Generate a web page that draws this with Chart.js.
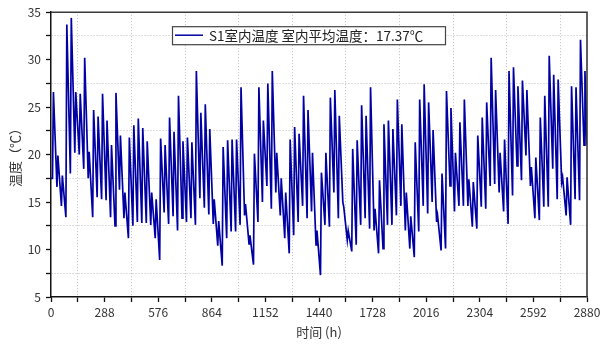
<!DOCTYPE html>
<html>
<head>
<meta charset="utf-8">
<script src="https://cdn.jsdelivr.net/npm/chart.js@4.4.1/dist/chart.umd.min.js"></script>
<style>
html,body{margin:0;padding:0;background:#fff;}
#c{display:block;}
</style>
</head>
<body>
<canvas id="c" width="600" height="344"></canvas>
<script>
// ---- data (hourly series summarised per day) ----
const seriesLabel = "S1室内温度 室内平均温度：17.37℃";
const xTitle = "时间 (h)";
const yTitle = "温度（℃）";
const xTickLabels = [0, 288, 576, 864, 1152, 1440, 1728, 2016, 2304, 2592, 2880];
const yTickLabels = [5, 10, 15, 20, 25, 30, 35];

const startTemp = 17.5;   // hour 0
const endTemp = 21.0;     // hour 2880
const troughHour = 8;     // hour of day of daily low
const peakHour = 13;      // hour of day of daily high

// daily low (before each daily high)
const dailyLow = [
 17.5,16.6,14.6,13.4,18.0,20.2,20.0,18.5,17.5,13.4,15.5,15.3,15.2,13.4,12.5,16.3,13.3,11.2,12.5,12.9,
 12.8,12.8,12.6,11.2,8.9,13.9,12.7,13.5,12.0,13.3,12.9,13.3,12.6,15.4,14.4,13.7,12.7,10.4,8.3,11.2,
 11.9,11.9,12.6,13.6,10.6,8.4,12.9,15.0,16.7,14.3,16.0,13.6,11.2,9.6,11.5,12.9,14.6,13.3,14.0,10.5,
 7.3,12.6,12.4,16.0,13.3,15.0,11.0,9.8,10.5,12.6,13.3,12.2,12.0,9.6,10.1,12.6,12.6,13.6,14.6,12.0,
 10.1,9.2,11.9,14.6,13.8,15.0,12.9,9.9,10.1,16.7,14.0,14.6,14.6,14.6,12.4,12.2,14.5,14.3,16.7,16.9,
 16.0,14.0,12.7,15.7,18.8,17.3,19.9,16.7,13.3,13.1,14.5,14.5,18.5,15.3,17.1,13.6,12.6,15.3,15.2,21.0
];
// daily high
const dailyHigh = [
 26.6,19.9,17.8,33.7,34.4,26.6,26.4,30.2,20.3,24.7,24.0,26.4,23.6,21.0,26.5,22.0,16.0,21.8,23.1,23.8,
 22.8,21.4,16.0,15.3,21.7,21.0,23.9,22.4,26.2,21.4,21.8,21.3,28.8,24.4,25.3,22.7,15.3,13.0,20.8,21.5,
 21.6,21.6,27.1,14.8,11.5,20.1,27.1,23.6,27.5,28.8,20.2,17.5,16.0,21.6,22.9,22.2,26.2,24.7,20.2,12.0,
 18.1,20.2,26.0,26.8,24.1,14.5,12.0,20.6,21.5,25.2,24.1,27.1,14.3,17.3,23.2,23.6,22.7,25.8,23.2,16.0,
 13.5,21.3,25.8,27.4,25.5,22.6,13.6,18.0,26.7,24.9,20.2,23.4,25.8,17.4,17.1,22.0,23.9,25.5,30.2,26.8,
 20.2,21.6,28.8,29.2,27.2,27.8,26.8,18.7,19.7,23.9,26.2,30.4,28.4,27.9,17.6,17.6,27.2,27.1,32.1,28.8
];

// build point table for the library
const points = [{x: 0, y: startTemp}];
for (let d = 0; d < dailyHigh.length; d++) {
  points.push({x: d * 24 + troughHour, y: dailyLow[d]});
  points.push({x: d * 24 + peakHour, y: dailyHigh[d]});
}
points.push({x: 2880, y: endTemp});

const LINE_COLOR = '#0000a4';
const FONT = '"Noto Sans CJK SC", "Noto Sans", sans-serif';

const framePlugin = {
  id: 'frameAndLegend',
  afterDatasetsDraw(chart) {
    const ctx = chart.ctx;
    const a = chart.chartArea;
    ctx.save();
    // top and right frame
    ctx.strokeStyle = '#3a3a3a';
    ctx.lineWidth = 1.6;
    ctx.beginPath();
    ctx.moveTo(a.left, a.top);
    ctx.lineTo(a.right, a.top);
    ctx.lineTo(a.right, a.bottom);
    ctx.stroke();
    // legend box
    const lx = a.left + 121, ly = a.top + 14, lw = 273, lh = 18;
    ctx.fillStyle = '#fff';
    ctx.fillRect(lx, ly, lw, lh);
    ctx.strokeStyle = '#444';
    ctx.lineWidth = 1.2;
    ctx.strokeRect(lx + 0.5, ly + 0.5, lw, lh);
    ctx.strokeStyle = LINE_COLOR;
    ctx.lineWidth = 1.5;
    ctx.beginPath();
    ctx.moveTo(lx + 3, ly + 9);
    ctx.lineTo(lx + 31, ly + 9);
    ctx.stroke();
    ctx.fillStyle = '#222';
    ctx.font = '13.5px ' + FONT;
    ctx.textBaseline = 'middle';
    ctx.textAlign = 'left';
    ctx.fillText(chart.data.datasets[0].label, lx + 37, ly + 10);
    ctx.restore();
  }
};

new Chart(document.getElementById('c'), {
  type: 'line',
  data: {
    datasets: [{
      label: seriesLabel,
      data: points,
      borderColor: LINE_COLOR,
      borderWidth: 1.7,
      pointRadius: 0,
      tension: 0,
      fill: false
    }]
  },
  options: {
    responsive: false,
    animation: false,
    devicePixelRatio: 1,
    layout: {padding: {top: 11, right: 13, left: 0, bottom: 0}},
    plugins: {legend: {display: false}, tooltip: {enabled: false}},
    scales: {
      x: {
        type: 'linear',
        min: xTickLabels[0],
        max: xTickLabels[xTickLabels.length - 1],
        afterFit(s) { s.height = 47; s.paddingRight = 0; s.paddingLeft = 0; },
        ticks: {
          stepSize: 144,
          autoSkip: false,
          maxRotation: 0,
          padding: 3,
          color: '#333',
          font: {family: FONT, size: 12},
          callback: (v) => xTickLabels.includes(v) ? String(v) : ''
        },
        grid: {
          color: (c) => (c.tick && xTickLabels.includes(c.tick.value)) ? 'rgba(0,0,0,0)' : '#bdbdbd',
          lineWidth: 1,
          drawTicks: true,
          tickLength: 5,
          tickColor: '#111',
          tickWidth: 1.3
        },
        border: {display: true, color: '#111', width: 1.5, dash: [1, 2]},
        title: {display: true, text: xTitle, color: '#333', font: {family: FONT, size: 13}, padding: {top: 0, bottom: 4}}
      },
      y: {
        min: yTickLabels[0],
        max: yTickLabels[yTickLabels.length - 1],
        afterFit(s) { s.width = 51; },
        ticks: {
          stepSize: 2.5,
          autoSkip: false,
          padding: 5,
          color: '#333',
          font: {family: FONT, size: 12},
          callback: (v) => yTickLabels.includes(v) ? String(v) : ''
        },
        grid: {
          color: (c) => (c.tick && yTickLabels.includes(c.tick.value)) ? 'rgba(0,0,0,0)' : '#bdbdbd',
          lineWidth: 1,
          drawTicks: true,
          tickLength: 5,
          tickColor: '#111',
          tickWidth: 1.3
        },
        border: {display: true, color: '#111', width: 1.5, dash: [1, 2]},
        title: {display: true, text: yTitle, color: '#333', font: {family: FONT, size: 13}, padding: {top: 7, bottom: 0}}
      }
    }
  },
  plugins: [framePlugin]
});
</script>
</body>
</html>
